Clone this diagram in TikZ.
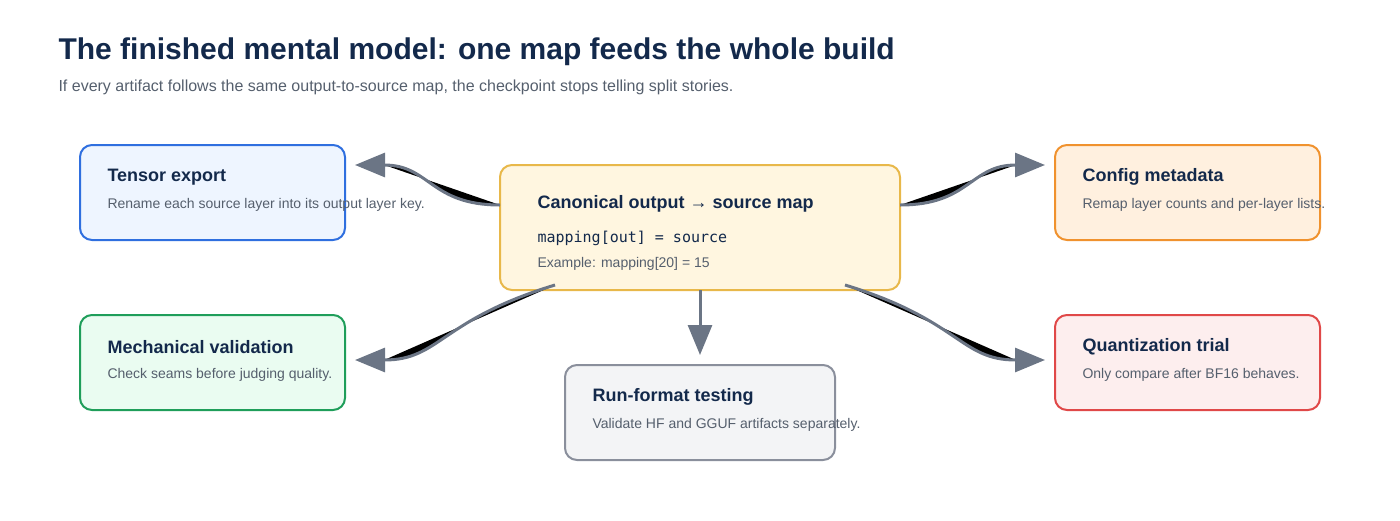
\documentclass[tikz,border=0pt]{standalone}
\usepackage{fontspec}
\setmainfont{Liberation Sans}
\setmonofont{DejaVu Sans Mono}
\usetikzlibrary{arrows.meta}
\definecolor{ttl}{HTML}{13294B}
\definecolor{sub}{HTML}{555F6D}
\definecolor{arr}{HTML}{6B7585}
\begin{document}
\begin{tikzpicture}[x=1pt,y=-1pt,
 box/.style={draw,line width=2pt,rounded corners=12pt,inner sep=0},
 bt/.style={anchor=west,font=\fontsize{18}{20}\selectfont\bfseries,text=ttl},
 bd/.style={anchor=west,font=\fontsize{14}{16}\selectfont,text=sub},
 con/.style={draw=arr,line width=3pt,fill=black,-{Triangle[length=30pt,width=24pt]}}]
\useasboundingbox (0,0) rectangle (1400,520);
\node[anchor=west,font=\fontsize{30}{34}\selectfont\bfseries,text=ttl] (title) at (55,52) {The finished mental model: one map feeds the whole build};
\node[anchor=west,font=\fontsize{16}{18}\selectfont,text=sub] (subt) at (55,87) {If every artifact follows the same output-to-source map, the checkpoint stops telling split stories.};

\draw[box,draw={rgb,255:red,47;green,111;blue,223},fill={rgb,255:red,238;green,245;blue,255}] (80,145) rectangle (345,240);
\draw[box,draw={rgb,255:red,232;green,184;blue,74},fill={rgb,255:red,255;green,246;blue,224}] (500,165) rectangle (900,290);
\draw[box,draw={rgb,255:red,240;green,146;blue,46},fill={rgb,255:red,255;green,240;blue,223}] (1055,145) rectangle (1320,240);
\draw[box,draw={rgb,255:red,31;green,158;blue,90},fill={rgb,255:red,234;green,252;blue,241}] (80,315) rectangle (345,410);
\draw[box,draw={rgb,255:red,138;green,143;blue,156},fill={rgb,255:red,243;green,244;blue,246}] (565,365) rectangle (835,460);
\draw[box,draw={rgb,255:red,224;green,72;blue,72},fill={rgb,255:red,253;green,238;blue,238}] (1055,315) rectangle (1320,410);

\node[bt] (t1) at (104,177) {Tensor export};
\node[bd] (d1) at (104,205) {Rename each source layer into its output layer key.};
\node[bt] (t2) at (534,204) {Canonical output \textrightarrow{} source map};
\node[anchor=west,font=\fontsize{15}{17}\selectfont\ttfamily,text=ttl] (m2) at (534,238) {mapping[out] = source};
\node[bd] (d2) at (534,264) {Example: mapping[20] = 15};
\node[bt] (t3) at (1079,177) {Config metadata};
\node[bd] (d3) at (1079,205) {Remap layer counts and per-layer lists.};
\node[bt] (t4) at (104,347) {Mechanical validation};
\node[bd] (d4) at (104,375) {Check seams before judging quality.};
\node[bt] (t5) at (589,397) {Run-format testing};
\node[bd] (d5) at (589,425) {Validate HF and GGUF artifacts separately.};
\node[bt] (t6) at (1079,347) {Quantization trial};
\node[bd] (d6) at (1079,375) {Only compare after BF16 behaves.};

\coordinate (cl) at (500,205); \coordinate (cr) at (900,205);
\coordinate (cbl) at (555,285); \coordinate (cbr) at (845,285);
\coordinate (cb) at (700,290);
\coordinate (e1) at (355,165); \coordinate (e3) at (1045,165);
\coordinate (e4) at (355,360); \coordinate (e6) at (1045,360);
\coordinate (e5) at (700,355);
\draw[con] (cl) .. controls (430,205) and (430,165) .. (e1);
\draw[con] (cr) .. controls (970,205) and (970,165) .. (e3);
\draw[con] (cbl) .. controls (440,320) and (440,360) .. (e4);
\draw[con] (cbr) .. controls (960,320) and (960,360) .. (e6);
\draw[draw=arr,line width=3pt,-{Triangle[length=30pt,width=24pt]}] (cb) -- (e5);
\end{tikzpicture}
\end{document}
